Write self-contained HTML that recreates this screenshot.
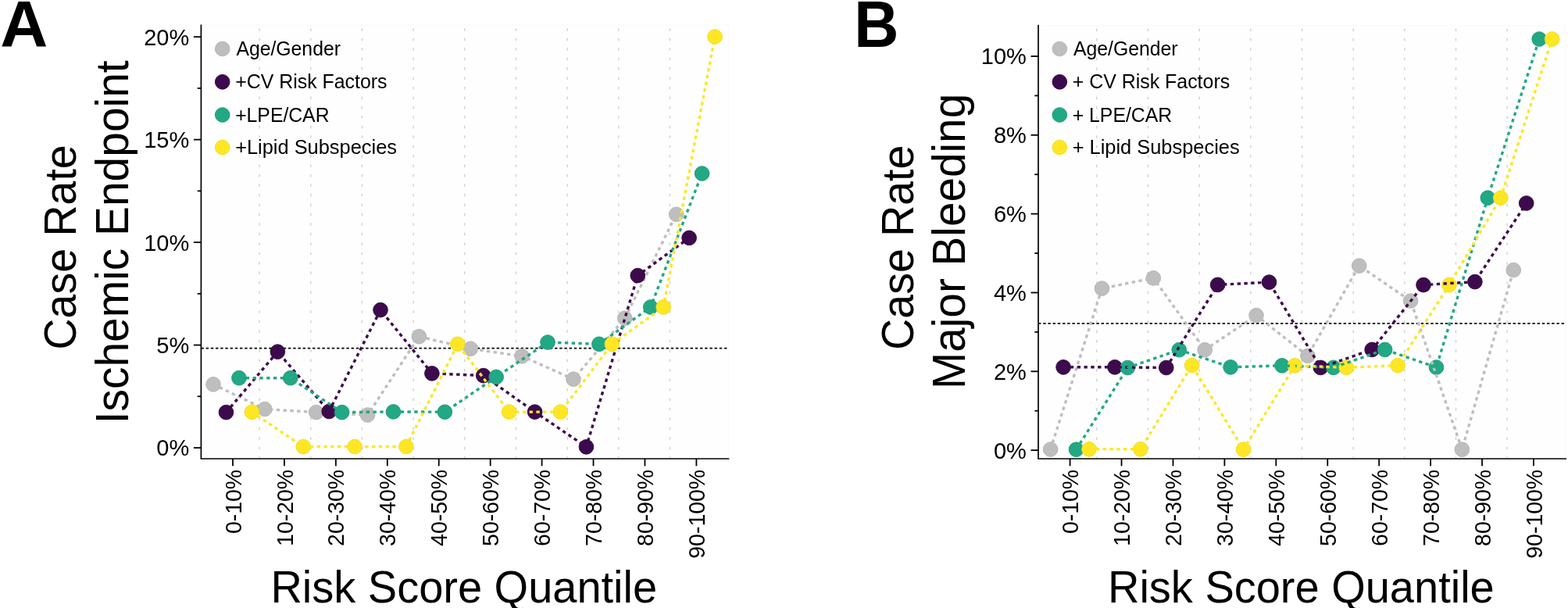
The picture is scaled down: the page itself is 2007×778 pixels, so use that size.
<!DOCTYPE html>
<html><head><meta charset="utf-8"><title>Risk Score Quantile</title>
<style>
html,body{margin:0;padding:0;background:#fff;}
body{width:2007px;height:778px;overflow:hidden;}
svg{display:block;}
svg text{font-family:"Liberation Sans", Arial, Helvetica, sans-serif;fill:#000;}
</style></head><body>
<svg width="2007" height="778" viewBox="0 0 2007 778">
<rect width="2007" height="778" fill="#fff"/>
<rect x="257.4" y="32.3" width="675.1" height="554.7" fill="#fefefe" stroke="#f9f9f9" stroke-width="1"/>
<line x1="332.1" y1="36.3" x2="332.1" y2="586" stroke="#d3d3d3" stroke-width="1.5" stroke-dasharray="3.5 8.95"/>
<line x1="397.77" y1="36.3" x2="397.77" y2="586" stroke="#d3d3d3" stroke-width="1.5" stroke-dasharray="3.5 8.95"/>
<line x1="463.44" y1="36.3" x2="463.44" y2="586" stroke="#d3d3d3" stroke-width="1.5" stroke-dasharray="3.5 8.95"/>
<line x1="529.11" y1="36.3" x2="529.11" y2="586" stroke="#d3d3d3" stroke-width="1.5" stroke-dasharray="3.5 8.95"/>
<line x1="594.78" y1="36.3" x2="594.78" y2="586" stroke="#d3d3d3" stroke-width="1.5" stroke-dasharray="3.5 8.95"/>
<line x1="660.45" y1="36.3" x2="660.45" y2="586" stroke="#d3d3d3" stroke-width="1.5" stroke-dasharray="3.5 8.95"/>
<line x1="726.12" y1="36.3" x2="726.12" y2="586" stroke="#d3d3d3" stroke-width="1.5" stroke-dasharray="3.5 8.95"/>
<line x1="791.79" y1="36.3" x2="791.79" y2="586" stroke="#d3d3d3" stroke-width="1.5" stroke-dasharray="3.5 8.95"/>
<line x1="857.46" y1="36.3" x2="857.46" y2="586" stroke="#d3d3d3" stroke-width="1.5" stroke-dasharray="3.5 8.95"/>
<line x1="257.4" y1="445.6" x2="932.5" y2="445.6" stroke="#000" stroke-width="1.6" stroke-dasharray="3.4 2.8"/>
<polyline points="273.01,491.8 338.86,523.5 404.71,527.6 470.56,531 536.41,430.6 602.26,446.2 668.11,455.8 733.96,485.2 799.81,407.2 865.66,274.3" fill="none" stroke="#bebebe" stroke-width="3.4" stroke-dasharray="4.4 4.4"/>
<circle cx="273.01" cy="491.8" r="9.35" fill="#bebebe" stroke="#b3b3b3" stroke-width="0.9"/>
<circle cx="338.86" cy="523.5" r="9.35" fill="#bebebe" stroke="#b3b3b3" stroke-width="0.9"/>
<circle cx="404.71" cy="527.6" r="9.35" fill="#bebebe" stroke="#b3b3b3" stroke-width="0.9"/>
<circle cx="470.56" cy="531" r="9.35" fill="#bebebe" stroke="#b3b3b3" stroke-width="0.9"/>
<circle cx="536.41" cy="430.6" r="9.35" fill="#bebebe" stroke="#b3b3b3" stroke-width="0.9"/>
<circle cx="602.26" cy="446.2" r="9.35" fill="#bebebe" stroke="#b3b3b3" stroke-width="0.9"/>
<circle cx="668.11" cy="455.8" r="9.35" fill="#bebebe" stroke="#b3b3b3" stroke-width="0.9"/>
<circle cx="733.96" cy="485.2" r="9.35" fill="#bebebe" stroke="#b3b3b3" stroke-width="0.9"/>
<circle cx="799.81" cy="407.2" r="9.35" fill="#bebebe" stroke="#b3b3b3" stroke-width="0.9"/>
<circle cx="865.66" cy="274.3" r="9.35" fill="#bebebe" stroke="#b3b3b3" stroke-width="0.9"/>
<polyline points="289.47,527.6 355.32,450.1 421.17,526.5 487.02,396.6 552.87,477.8 618.72,480.6 684.57,527.1 750.42,571.8 816.27,352.6 882.12,304.4" fill="none" stroke="#3e0a4e" stroke-width="3.4" stroke-dasharray="4.4 4.4"/>
<circle cx="289.47" cy="527.6" r="9.35" fill="#3e0a4e" stroke="#2e0639" stroke-width="0.9"/>
<circle cx="355.32" cy="450.1" r="9.35" fill="#3e0a4e" stroke="#2e0639" stroke-width="0.9"/>
<circle cx="421.17" cy="526.5" r="9.35" fill="#3e0a4e" stroke="#2e0639" stroke-width="0.9"/>
<circle cx="487.02" cy="396.6" r="9.35" fill="#3e0a4e" stroke="#2e0639" stroke-width="0.9"/>
<circle cx="552.87" cy="477.8" r="9.35" fill="#3e0a4e" stroke="#2e0639" stroke-width="0.9"/>
<circle cx="618.72" cy="480.6" r="9.35" fill="#3e0a4e" stroke="#2e0639" stroke-width="0.9"/>
<circle cx="684.57" cy="527.1" r="9.35" fill="#3e0a4e" stroke="#2e0639" stroke-width="0.9"/>
<circle cx="750.42" cy="571.8" r="9.35" fill="#3e0a4e" stroke="#2e0639" stroke-width="0.9"/>
<circle cx="816.27" cy="352.6" r="9.35" fill="#3e0a4e" stroke="#2e0639" stroke-width="0.9"/>
<circle cx="882.12" cy="304.4" r="9.35" fill="#3e0a4e" stroke="#2e0639" stroke-width="0.9"/>
<polyline points="305.93,483.7 371.78,483.7 437.63,527.6 503.48,526.9 569.33,527.2 635.18,482.4 701.03,438 766.88,440.3 832.73,393 898.58,222" fill="none" stroke="#22a884" stroke-width="3.4" stroke-dasharray="4.4 4.4"/>
<circle cx="305.93" cy="483.7" r="9.35" fill="#22a884" stroke="#1c9a78" stroke-width="0.9"/>
<circle cx="371.78" cy="483.7" r="9.35" fill="#22a884" stroke="#1c9a78" stroke-width="0.9"/>
<circle cx="437.63" cy="527.6" r="9.35" fill="#22a884" stroke="#1c9a78" stroke-width="0.9"/>
<circle cx="503.48" cy="526.9" r="9.35" fill="#22a884" stroke="#1c9a78" stroke-width="0.9"/>
<circle cx="569.33" cy="527.2" r="9.35" fill="#22a884" stroke="#1c9a78" stroke-width="0.9"/>
<circle cx="635.18" cy="482.4" r="9.35" fill="#22a884" stroke="#1c9a78" stroke-width="0.9"/>
<circle cx="701.03" cy="438" r="9.35" fill="#22a884" stroke="#1c9a78" stroke-width="0.9"/>
<circle cx="766.88" cy="440.3" r="9.35" fill="#22a884" stroke="#1c9a78" stroke-width="0.9"/>
<circle cx="832.73" cy="393" r="9.35" fill="#22a884" stroke="#1c9a78" stroke-width="0.9"/>
<circle cx="898.58" cy="222" r="9.35" fill="#22a884" stroke="#1c9a78" stroke-width="0.9"/>
<polyline points="322.39,527.2 388.24,571.6 454.09,571.5 519.94,571.5 585.79,440.3 651.64,527.1 717.49,527.1 783.34,440.3 849.19,393 915.04,47" fill="none" stroke="#fde725" stroke-width="3.4" stroke-dasharray="4.4 4.4"/>
<circle cx="322.39" cy="527.2" r="9.35" fill="#fde725" stroke="#f0d91c" stroke-width="0.9"/>
<circle cx="388.24" cy="571.6" r="9.35" fill="#fde725" stroke="#f0d91c" stroke-width="0.9"/>
<circle cx="454.09" cy="571.5" r="9.35" fill="#fde725" stroke="#f0d91c" stroke-width="0.9"/>
<circle cx="519.94" cy="571.5" r="9.35" fill="#fde725" stroke="#f0d91c" stroke-width="0.9"/>
<circle cx="585.79" cy="440.3" r="9.35" fill="#fde725" stroke="#f0d91c" stroke-width="0.9"/>
<circle cx="651.64" cy="527.1" r="9.35" fill="#fde725" stroke="#f0d91c" stroke-width="0.9"/>
<circle cx="717.49" cy="527.1" r="9.35" fill="#fde725" stroke="#f0d91c" stroke-width="0.9"/>
<circle cx="783.34" cy="440.3" r="9.35" fill="#fde725" stroke="#f0d91c" stroke-width="0.9"/>
<circle cx="849.19" cy="393" r="9.35" fill="#fde725" stroke="#f0d91c" stroke-width="0.9"/>
<circle cx="915.04" cy="47" r="9.35" fill="#fde725" stroke="#f0d91c" stroke-width="0.9"/>
<circle cx="284.7" cy="62.5" r="9.35" fill="#bebebe" stroke="#b3b3b3" stroke-width="0.9"/>
<text transform="translate(302.4,71.1) scale(1,1.03)" font-size="24.7" textLength="133.54" lengthAdjust="spacingAndGlyphs">Age/Gender</text>
<circle cx="284.7" cy="104.8" r="9.35" fill="#3e0a4e" stroke="#2e0639" stroke-width="0.9"/>
<text transform="translate(301.16,113.4) scale(1,1.03)" font-size="24.7" textLength="194.37" lengthAdjust="spacingAndGlyphs">+CV Risk Factors</text>
<circle cx="284.7" cy="147.0" r="9.35" fill="#22a884" stroke="#1c9a78" stroke-width="0.9"/>
<text transform="translate(301.16,155.6) scale(1,1.03)" font-size="24.7" textLength="120.34" lengthAdjust="spacingAndGlyphs">+LPE/CAR</text>
<circle cx="284.7" cy="188.6" r="9.35" fill="#fde725" stroke="#f0d91c" stroke-width="0.9"/>
<text transform="translate(301.13,197.2) scale(1,1.03)" font-size="24.7" textLength="206.85" lengthAdjust="spacingAndGlyphs">+Lipid Subspecies</text>
<path d="M257.4 32.3 V587 H932.5" fill="none" stroke="#000" stroke-width="1.7" stroke-linecap="square"/>
<line x1="247.9" y1="573" x2="257.4" y2="573" stroke="#000" stroke-width="1.8"/>
<text transform="translate(242.2,583.4) scale(1,1.03)" font-size="29" text-anchor="end">0%</text>
<line x1="247.9" y1="441.55" x2="257.4" y2="441.55" stroke="#000" stroke-width="1.8"/>
<text transform="translate(242.2,451.95) scale(1,1.03)" font-size="29" text-anchor="end">5%</text>
<line x1="247.9" y1="310.1" x2="257.4" y2="310.1" stroke="#000" stroke-width="1.8"/>
<text transform="translate(242.2,320.5) scale(1,1.03)" font-size="29" text-anchor="end">10%</text>
<line x1="247.9" y1="178.65" x2="257.4" y2="178.65" stroke="#000" stroke-width="1.8"/>
<text transform="translate(242.2,189.05) scale(1,1.03)" font-size="29" text-anchor="end">15%</text>
<line x1="247.9" y1="47.2" x2="257.4" y2="47.2" stroke="#000" stroke-width="1.8"/>
<text transform="translate(242.2,57.6) scale(1,1.03)" font-size="29" text-anchor="end">20%</text>
<line x1="252.7" y1="507.27" x2="257.4" y2="507.27" stroke="#000" stroke-width="1.8"/>
<line x1="252.7" y1="375.83" x2="257.4" y2="375.83" stroke="#000" stroke-width="1.8"/>
<line x1="252.7" y1="244.38" x2="257.4" y2="244.38" stroke="#000" stroke-width="1.8"/>
<line x1="252.7" y1="112.93" x2="257.4" y2="112.93" stroke="#000" stroke-width="1.8"/>
<line x1="298" y1="587" x2="298" y2="596.3" stroke="#000" stroke-width="1.8"/>
<text transform="translate(308.6,600.9) rotate(-90) scale(1,1.03)" font-size="28.45" text-anchor="end">0-10%</text>
<line x1="363.93" y1="587" x2="363.93" y2="596.3" stroke="#000" stroke-width="1.8"/>
<text transform="translate(374.53,600.9) rotate(-90) scale(1,1.03)" font-size="28.45" text-anchor="end">10-20%</text>
<line x1="429.86" y1="587" x2="429.86" y2="596.3" stroke="#000" stroke-width="1.8"/>
<text transform="translate(440.46,600.9) rotate(-90) scale(1,1.03)" font-size="28.45" text-anchor="end">20-30%</text>
<line x1="495.79" y1="587" x2="495.79" y2="596.3" stroke="#000" stroke-width="1.8"/>
<text transform="translate(506.39,600.9) rotate(-90) scale(1,1.03)" font-size="28.45" text-anchor="end">30-40%</text>
<line x1="561.72" y1="587" x2="561.72" y2="596.3" stroke="#000" stroke-width="1.8"/>
<text transform="translate(572.32,600.9) rotate(-90) scale(1,1.03)" font-size="28.45" text-anchor="end">40-50%</text>
<line x1="627.65" y1="587" x2="627.65" y2="596.3" stroke="#000" stroke-width="1.8"/>
<text transform="translate(638.25,600.9) rotate(-90) scale(1,1.03)" font-size="28.45" text-anchor="end">50-60%</text>
<line x1="693.58" y1="587" x2="693.58" y2="596.3" stroke="#000" stroke-width="1.8"/>
<text transform="translate(704.18,600.9) rotate(-90) scale(1,1.03)" font-size="28.45" text-anchor="end">60-70%</text>
<line x1="759.51" y1="587" x2="759.51" y2="596.3" stroke="#000" stroke-width="1.8"/>
<text transform="translate(770.11,600.9) rotate(-90) scale(1,1.03)" font-size="28.45" text-anchor="end">70-80%</text>
<line x1="825.44" y1="587" x2="825.44" y2="596.3" stroke="#000" stroke-width="1.8"/>
<text transform="translate(836.04,600.9) rotate(-90) scale(1,1.03)" font-size="28.45" text-anchor="end">80-90%</text>
<line x1="891.37" y1="587" x2="891.37" y2="596.3" stroke="#000" stroke-width="1.8"/>
<text transform="translate(901.97,600.9) rotate(-90) scale(1,1.03)" font-size="28.45" text-anchor="end">90-100%</text>
<text transform="translate(593.75,771.3) scale(1,1.03)" font-size="56" text-anchor="middle">Risk Score Quantile</text>
<text transform="translate(97,316.4) rotate(-90) scale(1,1.03)" font-size="55.5" text-anchor="middle">Case Rate</text>
<text transform="translate(163.6,309.8) rotate(-90) scale(1,1.03)" font-size="56.9" text-anchor="middle">Ischemic Endpoint</text>
<text transform="translate(0.2,60) scale(1.025,1)" font-size="82.5" font-weight="bold">A</text>
<rect x="1329" y="32.5" width="675.1" height="554.5" fill="#fefefe" stroke="#f9f9f9" stroke-width="1"/>
<line x1="1403.8" y1="36.5" x2="1403.8" y2="586" stroke="#d3d3d3" stroke-width="1.5" stroke-dasharray="3.5 8.95"/>
<line x1="1469.47" y1="36.5" x2="1469.47" y2="586" stroke="#d3d3d3" stroke-width="1.5" stroke-dasharray="3.5 8.95"/>
<line x1="1535.14" y1="36.5" x2="1535.14" y2="586" stroke="#d3d3d3" stroke-width="1.5" stroke-dasharray="3.5 8.95"/>
<line x1="1600.81" y1="36.5" x2="1600.81" y2="586" stroke="#d3d3d3" stroke-width="1.5" stroke-dasharray="3.5 8.95"/>
<line x1="1666.48" y1="36.5" x2="1666.48" y2="586" stroke="#d3d3d3" stroke-width="1.5" stroke-dasharray="3.5 8.95"/>
<line x1="1732.15" y1="36.5" x2="1732.15" y2="586" stroke="#d3d3d3" stroke-width="1.5" stroke-dasharray="3.5 8.95"/>
<line x1="1797.82" y1="36.5" x2="1797.82" y2="586" stroke="#d3d3d3" stroke-width="1.5" stroke-dasharray="3.5 8.95"/>
<line x1="1863.49" y1="36.5" x2="1863.49" y2="586" stroke="#d3d3d3" stroke-width="1.5" stroke-dasharray="3.5 8.95"/>
<line x1="1929.16" y1="36.5" x2="1929.16" y2="586" stroke="#d3d3d3" stroke-width="1.5" stroke-dasharray="3.5 8.95"/>
<line x1="1329" y1="413.9" x2="2004.1" y2="413.9" stroke="#000" stroke-width="1.6" stroke-dasharray="3.4 2.8"/>
<circle cx="1344.61" cy="575" r="9.35" fill="#bebebe" stroke="#b3b3b3" stroke-width="0.9"/>
<circle cx="1410.46" cy="369.1" r="9.35" fill="#bebebe" stroke="#b3b3b3" stroke-width="0.9"/>
<circle cx="1476.31" cy="355.8" r="9.35" fill="#bebebe" stroke="#b3b3b3" stroke-width="0.9"/>
<circle cx="1542.16" cy="447.7" r="9.35" fill="#bebebe" stroke="#b3b3b3" stroke-width="0.9"/>
<circle cx="1608.01" cy="403.6" r="9.35" fill="#bebebe" stroke="#b3b3b3" stroke-width="0.9"/>
<circle cx="1673.86" cy="455.4" r="9.35" fill="#bebebe" stroke="#b3b3b3" stroke-width="0.9"/>
<circle cx="1739.71" cy="340.1" r="9.35" fill="#bebebe" stroke="#b3b3b3" stroke-width="0.9"/>
<circle cx="1805.56" cy="385" r="9.35" fill="#bebebe" stroke="#b3b3b3" stroke-width="0.9"/>
<circle cx="1871.41" cy="575.2" r="9.35" fill="#bebebe" stroke="#b3b3b3" stroke-width="0.9"/>
<circle cx="1937.26" cy="345.6" r="9.35" fill="#bebebe" stroke="#b3b3b3" stroke-width="0.9"/>
<circle cx="1361.07" cy="469.8" r="9.35" fill="#3e0a4e" stroke="#2e0639" stroke-width="0.9"/>
<circle cx="1426.92" cy="469.8" r="9.35" fill="#3e0a4e" stroke="#2e0639" stroke-width="0.9"/>
<circle cx="1492.77" cy="470.5" r="9.35" fill="#3e0a4e" stroke="#2e0639" stroke-width="0.9"/>
<circle cx="1558.62" cy="364.4" r="9.35" fill="#3e0a4e" stroke="#2e0639" stroke-width="0.9"/>
<circle cx="1624.47" cy="361.1" r="9.35" fill="#3e0a4e" stroke="#2e0639" stroke-width="0.9"/>
<circle cx="1690.32" cy="470.4" r="9.35" fill="#3e0a4e" stroke="#2e0639" stroke-width="0.9"/>
<circle cx="1756.17" cy="447.4" r="9.35" fill="#3e0a4e" stroke="#2e0639" stroke-width="0.9"/>
<circle cx="1822.02" cy="364.6" r="9.35" fill="#3e0a4e" stroke="#2e0639" stroke-width="0.9"/>
<circle cx="1887.87" cy="360.6" r="9.35" fill="#3e0a4e" stroke="#2e0639" stroke-width="0.9"/>
<circle cx="1953.72" cy="260" r="9.35" fill="#3e0a4e" stroke="#2e0639" stroke-width="0.9"/>
<circle cx="1377.53" cy="575.2" r="9.35" fill="#22a884" stroke="#1c9a78" stroke-width="0.9"/>
<circle cx="1443.38" cy="470.5" r="9.35" fill="#22a884" stroke="#1c9a78" stroke-width="0.9"/>
<circle cx="1509.23" cy="447.7" r="9.35" fill="#22a884" stroke="#1c9a78" stroke-width="0.9"/>
<circle cx="1575.08" cy="469.8" r="9.35" fill="#22a884" stroke="#1c9a78" stroke-width="0.9"/>
<circle cx="1640.93" cy="467.8" r="9.35" fill="#22a884" stroke="#1c9a78" stroke-width="0.9"/>
<circle cx="1706.78" cy="470.3" r="9.35" fill="#22a884" stroke="#1c9a78" stroke-width="0.9"/>
<circle cx="1772.63" cy="447.4" r="9.35" fill="#22a884" stroke="#1c9a78" stroke-width="0.9"/>
<circle cx="1838.48" cy="470" r="9.35" fill="#22a884" stroke="#1c9a78" stroke-width="0.9"/>
<circle cx="1904.33" cy="253.2" r="9.35" fill="#22a884" stroke="#1c9a78" stroke-width="0.9"/>
<circle cx="1970.18" cy="50" r="9.35" fill="#22a884" stroke="#1c9a78" stroke-width="0.9"/>
<circle cx="1393.99" cy="574.8" r="9.35" fill="#fde725" stroke="#f0d91c" stroke-width="0.9"/>
<circle cx="1459.84" cy="574.8" r="9.35" fill="#fde725" stroke="#f0d91c" stroke-width="0.9"/>
<circle cx="1525.69" cy="467.5" r="9.35" fill="#fde725" stroke="#f0d91c" stroke-width="0.9"/>
<circle cx="1591.54" cy="575.2" r="9.35" fill="#fde725" stroke="#f0d91c" stroke-width="0.9"/>
<circle cx="1657.39" cy="467.8" r="9.35" fill="#fde725" stroke="#f0d91c" stroke-width="0.9"/>
<circle cx="1723.24" cy="470.3" r="9.35" fill="#fde725" stroke="#f0d91c" stroke-width="0.9"/>
<circle cx="1789.09" cy="467.6" r="9.35" fill="#fde725" stroke="#f0d91c" stroke-width="0.9"/>
<circle cx="1854.94" cy="364.7" r="9.35" fill="#fde725" stroke="#f0d91c" stroke-width="0.9"/>
<circle cx="1920.79" cy="253.2" r="9.35" fill="#fde725" stroke="#f0d91c" stroke-width="0.9"/>
<circle cx="1986.64" cy="50" r="9.35" fill="#fde725" stroke="#f0d91c" stroke-width="0.9"/>
<polyline points="1344.61,575 1410.46,369.1 1476.31,355.8 1542.16,447.7 1608.01,403.6 1673.86,455.4 1739.71,340.1 1805.56,385 1871.41,575.2 1937.26,345.6" fill="none" stroke="#bebebe" stroke-width="3.4" stroke-dasharray="4.4 4.4"/>
<polyline points="1361.07,469.8 1426.92,469.8 1492.77,470.5 1558.62,364.4 1624.47,361.1 1690.32,470.4 1756.17,447.4 1822.02,364.6 1887.87,360.6 1953.72,260" fill="none" stroke="#3e0a4e" stroke-width="3.4" stroke-dasharray="4.4 4.4"/>
<polyline points="1377.53,575.2 1443.38,470.5 1509.23,447.7 1575.08,469.8 1640.93,467.8 1706.78,470.3 1772.63,447.4 1838.48,470 1904.33,253.2 1970.18,50" fill="none" stroke="#22a884" stroke-width="3.4" stroke-dasharray="4.4 4.4"/>
<polyline points="1393.99,574.8 1459.84,574.8 1525.69,467.5 1591.54,575.2 1657.39,467.8 1723.24,470.3 1789.09,467.6 1854.94,364.7 1920.79,253.2 1986.64,50" fill="none" stroke="#fde725" stroke-width="3.4" stroke-dasharray="4.4 4.4"/>
<circle cx="1356.3" cy="62.5" r="9.35" fill="#bebebe" stroke="#b3b3b3" stroke-width="0.9"/>
<text transform="translate(1373.9,71.1) scale(1,1.03)" font-size="24.7" textLength="133.64" lengthAdjust="spacingAndGlyphs">Age/Gender</text>
<circle cx="1356.3" cy="104.8" r="9.35" fill="#3e0a4e" stroke="#2e0639" stroke-width="0.9"/>
<text transform="translate(1372.65,113.4) scale(1,1.03)" font-size="24.7" textLength="201.52" lengthAdjust="spacingAndGlyphs">+ CV Risk Factors</text>
<circle cx="1356.3" cy="147.0" r="9.35" fill="#22a884" stroke="#1c9a78" stroke-width="0.9"/>
<text transform="translate(1372.66,155.6) scale(1,1.03)" font-size="24.7" textLength="127.59" lengthAdjust="spacingAndGlyphs">+ LPE/CAR</text>
<circle cx="1356.3" cy="188.6" r="9.35" fill="#fde725" stroke="#f0d91c" stroke-width="0.9"/>
<text transform="translate(1372.63,197.2) scale(1,1.03)" font-size="24.7" textLength="214" lengthAdjust="spacingAndGlyphs">+ Lipid Subspecies</text>
<path d="M1329 32.5 V587 H2004.1" fill="none" stroke="#000" stroke-width="1.7" stroke-linecap="square"/>
<line x1="1319.5" y1="576.1" x2="1329" y2="576.1" stroke="#000" stroke-width="1.8"/>
<text transform="translate(1313.8,586.5) scale(1,1.03)" font-size="29" text-anchor="end">0%</text>
<line x1="1319.5" y1="475.28" x2="1329" y2="475.28" stroke="#000" stroke-width="1.8"/>
<text transform="translate(1313.8,485.68) scale(1,1.03)" font-size="29" text-anchor="end">2%</text>
<line x1="1319.5" y1="374.46" x2="1329" y2="374.46" stroke="#000" stroke-width="1.8"/>
<text transform="translate(1313.8,384.86) scale(1,1.03)" font-size="29" text-anchor="end">4%</text>
<line x1="1319.5" y1="273.64" x2="1329" y2="273.64" stroke="#000" stroke-width="1.8"/>
<text transform="translate(1313.8,284.04) scale(1,1.03)" font-size="29" text-anchor="end">6%</text>
<line x1="1319.5" y1="172.82" x2="1329" y2="172.82" stroke="#000" stroke-width="1.8"/>
<text transform="translate(1313.8,183.22) scale(1,1.03)" font-size="29" text-anchor="end">8%</text>
<line x1="1319.5" y1="72" x2="1329" y2="72" stroke="#000" stroke-width="1.8"/>
<text transform="translate(1313.8,82.4) scale(1,1.03)" font-size="29" text-anchor="end">10%</text>
<line x1="1324.3" y1="525.69" x2="1329" y2="525.69" stroke="#000" stroke-width="1.8"/>
<line x1="1324.3" y1="424.87" x2="1329" y2="424.87" stroke="#000" stroke-width="1.8"/>
<line x1="1324.3" y1="324.05" x2="1329" y2="324.05" stroke="#000" stroke-width="1.8"/>
<line x1="1324.3" y1="223.23" x2="1329" y2="223.23" stroke="#000" stroke-width="1.8"/>
<line x1="1324.3" y1="122.41" x2="1329" y2="122.41" stroke="#000" stroke-width="1.8"/>
<line x1="1369.6" y1="587" x2="1369.6" y2="596.3" stroke="#000" stroke-width="1.8"/>
<text transform="translate(1380.2,600.9) rotate(-90) scale(1,1.03)" font-size="28.45" text-anchor="end">0-10%</text>
<line x1="1435.53" y1="587" x2="1435.53" y2="596.3" stroke="#000" stroke-width="1.8"/>
<text transform="translate(1446.13,600.9) rotate(-90) scale(1,1.03)" font-size="28.45" text-anchor="end">10-20%</text>
<line x1="1501.46" y1="587" x2="1501.46" y2="596.3" stroke="#000" stroke-width="1.8"/>
<text transform="translate(1512.06,600.9) rotate(-90) scale(1,1.03)" font-size="28.45" text-anchor="end">20-30%</text>
<line x1="1567.39" y1="587" x2="1567.39" y2="596.3" stroke="#000" stroke-width="1.8"/>
<text transform="translate(1577.99,600.9) rotate(-90) scale(1,1.03)" font-size="28.45" text-anchor="end">30-40%</text>
<line x1="1633.32" y1="587" x2="1633.32" y2="596.3" stroke="#000" stroke-width="1.8"/>
<text transform="translate(1643.92,600.9) rotate(-90) scale(1,1.03)" font-size="28.45" text-anchor="end">40-50%</text>
<line x1="1699.25" y1="587" x2="1699.25" y2="596.3" stroke="#000" stroke-width="1.8"/>
<text transform="translate(1709.85,600.9) rotate(-90) scale(1,1.03)" font-size="28.45" text-anchor="end">50-60%</text>
<line x1="1765.18" y1="587" x2="1765.18" y2="596.3" stroke="#000" stroke-width="1.8"/>
<text transform="translate(1775.78,600.9) rotate(-90) scale(1,1.03)" font-size="28.45" text-anchor="end">60-70%</text>
<line x1="1831.11" y1="587" x2="1831.11" y2="596.3" stroke="#000" stroke-width="1.8"/>
<text transform="translate(1841.71,600.9) rotate(-90) scale(1,1.03)" font-size="28.45" text-anchor="end">70-80%</text>
<line x1="1897.04" y1="587" x2="1897.04" y2="596.3" stroke="#000" stroke-width="1.8"/>
<text transform="translate(1907.64,600.9) rotate(-90) scale(1,1.03)" font-size="28.45" text-anchor="end">80-90%</text>
<line x1="1962.97" y1="587" x2="1962.97" y2="596.3" stroke="#000" stroke-width="1.8"/>
<text transform="translate(1973.57,600.9) rotate(-90) scale(1,1.03)" font-size="28.45" text-anchor="end">90-100%</text>
<text transform="translate(1665.35,771.3) scale(1,1.03)" font-size="56" text-anchor="middle">Risk Score Quantile</text>
<text transform="translate(1168.6,316.7) rotate(-90) scale(1,1.03)" font-size="55.5" text-anchor="middle">Case Rate</text>
<text transform="translate(1235.2,308.9) rotate(-90) scale(1,1.03)" font-size="56.7" text-anchor="middle">Major Bleeding</text>
<text transform="translate(1093.3,60) scale(0.96,1)" font-size="82.5" font-weight="bold">B</text>
</svg>
</body></html>
